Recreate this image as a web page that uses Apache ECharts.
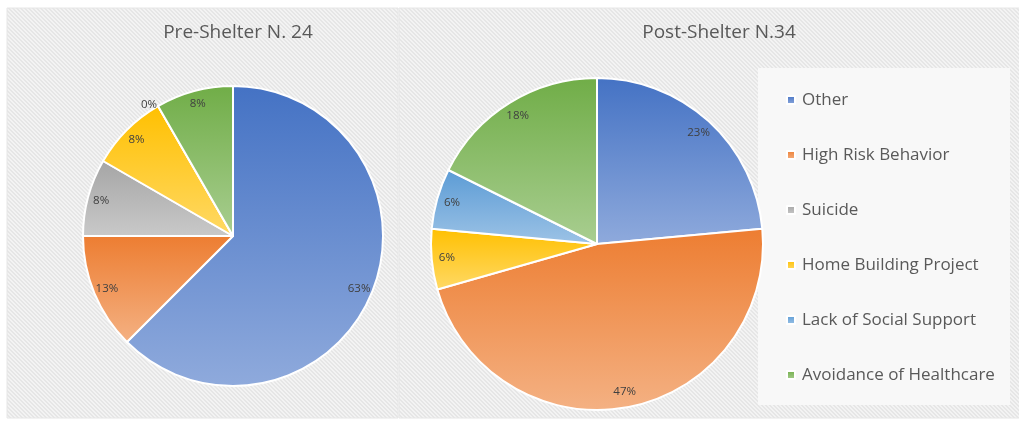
<!DOCTYPE html>
<html>
<head>
<meta charset="utf-8">
<script src="https://cdn.jsdelivr.net/npm/echarts@6/dist/echarts.min.js"></script>
<style>
  html, body { margin: 0; padding: 0; background: #fff; }
  #chart { width: 1019px; height: 421px; }
</style>
</head>
<body>
<div id="chart"></div>
<script>
// case counts (N = 24 and N = 34), labels show the share
var categories = ['Other', 'High Risk Behavior', 'Suicide', 'Home Building Project', 'Lack of Social Support', 'Avoidance of Healthcare'];
var preValues = [15, 3, 2, 2, 0, 2];
var postValues = [8, 16, null, 2, 2, 6];
var titles = ['Pre-Shelter N. 24', 'Post-Shelter N.34'];
var baseColors = ['#4472C4', '#ED7D31', '#A5A5A5', '#FFC000', '#5B9BD5', '#70AD47'];

var FONT = '"Open Sans", sans-serif';
var TXT = '#595959';

function tint(hex, p) {
  var n = parseInt(hex.slice(1), 16);
  var r = (n >> 16) & 255, g = (n >> 8) & 255, b = n & 255;
  r = Math.round(r + (255 - r) * p);
  g = Math.round(g + (255 - g) * p);
  b = Math.round(b + (255 - b) * p);
  return 'rgb(' + r + ',' + g + ',' + b + ')';
}

function grad(hex) {
  return {
    type: 'linear', x: 0, y: 0, x2: 0, y2: 1,
    colorStops: [{ offset: 0, color: hex }, { offset: 1, color: tint(hex, 0.4) }]
  };
}

// diagonal hatch like the excel background
function hatch(bg, line) {
  var c = document.createElement('canvas');
  c.width = 4; c.height = 4;
  var ctx = c.getContext('2d');
  ctx.fillStyle = bg;
  ctx.fillRect(0, 0, 4, 4);
  ctx.fillStyle = line;
  for (var i = 0; i < 4; i++) {
    ctx.fillRect(i, i, 1, 1);
    ctx.fillRect((i + 1) % 4, i, 1, 1);
  }
  return { image: c, repeat: 'repeat' };
}

function pieData(values) {
  var out = [];
  for (var i = 0; i < categories.length; i++) {
    if (values[i] === null) continue;
    out.push({ name: categories[i], value: values[i], itemStyle: { color: grad(baseColors[i]) } });
  }
  return out;
}

function labelData(values) {
  var out = [];
  for (var i = 0; i < categories.length; i++) {
    if (values[i] === null) continue;
    var d = { name: categories[i], value: values[i] };
    if (values[i] === 0) {
      d.label = { position: 'outside', distanceToLabelLine: 0 };
      d.labelLine = { show: false, length: 2, length2: 0 };
    }
    out.push(d);
  }
  return out;
}

function makePie(values, cx, cy, r) {
  return [{
    type: 'pie',
    center: [cx, cy],
    radius: [0, r],
    startAngle: 90,
    clockwise: true,
    silent: true,
    itemStyle: { borderColor: '#fff', borderWidth: 2 },
    label: { show: false },
    labelLine: { show: false },
    emphasis: { disabled: true },
    data: pieData(values)
  }, {
    // transparent ring that carries the labels at ~0.89r
    type: 'pie',
    center: [cx, cy],
    radius: [r * 0.78, r],
    startAngle: 90,
    clockwise: true,
    silent: true,
    z: 3,
    percentPrecision: 0,
    legendHoverLink: false,
    itemStyle: { color: 'rgba(0,0,0,0)' },
    label: { show: true, position: 'inside', formatter: '{d}%', fontFamily: FONT, fontSize: 11.5, color: '#404040' },
    labelLine: { show: false },
    emphasis: { disabled: true },
    data: labelData(values)
  }];
}

var chart = echarts.init(document.getElementById('chart'));
var series = makePie(preValues, 233, 236, 150).concat(makePie(postValues, 597, 244, 166));
series[1].name = 'preLabels';
series[3].name = 'postLabels';

var option = {
  backgroundColor: '#fff',
  animation: false,
  graphic: [
    { type: 'rect', z: 0, shape: { x: 7, y: 8, width: 391, height: 410 }, style: { fill: hatch('#f3f3f3', '#e6e6e6'), stroke: '#e6e6e6', lineWidth: 1 } },
    { type: 'rect', z: 0, shape: { x: 399, y: 8, width: 625, height: 410 }, style: { fill: hatch('#f3f3f3', '#e6e6e6'), stroke: '#e6e6e6', lineWidth: 1 } },
    { type: 'rect', z: 0, shape: { x: 758, y: 68, width: 252, height: 337 }, style: { fill: '#f8f8f8' } }
  ],
  title: [
    { text: titles[0], left: 233, top: 18, textAlign: 'center', textStyle: { fontFamily: FONT, fontSize: 19, fontWeight: 'normal', color: TXT } },
    { text: titles[1], left: 714, top: 18, textAlign: 'center', textStyle: { fontFamily: FONT, fontSize: 19, fontWeight: 'normal', color: TXT } }
  ],
  legend: {
    orient: 'vertical',
    left: 781,
    top: 85,
    icon: 'rect',
    itemWidth: 8,
    itemHeight: 8,
    itemGap: 35,
    selectedMode: false,
    data: categories,
    textStyle: { fontFamily: FONT, fontSize: 17, color: TXT, lineHeight: 20, padding: [0, 0, 0, 2] }
  },
  series: series
};
chart.setOption(option);
</script>
</body>
</html>
